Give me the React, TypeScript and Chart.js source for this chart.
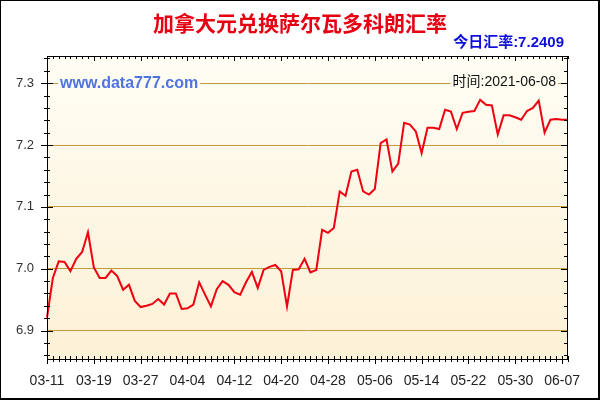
import React, { useEffect, useRef } from "react";
import { Chart, registerables } from "chart.js";

Chart.register(...registerables);

const startDate = "2021-03-11";
const dayCount = 90;
const rates = [
  6.921, 6.985, 7.012, 7.011, 6.996, 7.016, 7.027, 7.059, 7.002, 6.985,
  6.985, 6.997, 6.988, 6.966, 6.974, 6.948, 6.938, 6.940, 6.943, 6.951,
  6.942, 6.960, 6.960, 6.935, 6.936, 6.942, 6.978, 6.958, 6.939, 6.967,
  6.980, 6.974, 6.962, 6.958, 6.978, 6.995, 6.969, 6.998, 7.003, 7.006,
  6.996, 6.939, 6.998, 6.999, 7.016, 6.994, 6.998, 7.063, 7.058, 7.066,
  7.125, 7.118, 7.157, 7.160, 7.125, 7.120, 7.129, 7.203, 7.209, 7.157,
  7.170, 7.236, 7.233, 7.222, 7.187, 7.228, 7.228, 7.226, 7.257, 7.254,
  7.226, 7.252, 7.254, 7.255, 7.273, 7.265, 7.264, 7.217, 7.248, 7.248,
  7.245, 7.241, 7.255, 7.260, 7.272, 7.220, 7.241, 7.242, 7.241, 7.2409,
];
const yTickValues = [6.9, 7.0, 7.1, 7.2, 7.3];
const yMin = 6.854;
const yMax = 7.344;
const labelEvery = 8;

const titleText = "加拿大元兑换萨尔瓦多科朗汇率";
const todayText = "今日汇率:7.2409";
const siteText = "www.data777.com";
const timeText = "时间:2021-06-08";

function makeDates(start: string, n: number): string[] {
  const out: string[] = [];
  const d0 = new Date(start + "T00:00:00Z");
  for (let i = 0; i < n; i++) {
    const d = new Date(d0.getTime() + i * 86400000);
    const m = String(d.getUTCMonth() + 1).padStart(2, "0");
    const dd = String(d.getUTCDate()).padStart(2, "0");
    out.push(`${m}-${dd}`);
  }
  return out;
}
const dates = makeDates(startDate, dayCount);

const decorPlugin = {
  id: "decor",
  beforeDraw(chart: any) {
    const { ctx, chartArea: a } = chart;
    ctx.save();
    ctx.fillStyle = "#ffffff";
    ctx.fillRect(0, 0, chart.width, chart.height);
    const g = ctx.createLinearGradient(0, a.top, 0, a.bottom);
    g.addColorStop(0, "#fffdf4");
    g.addColorStop(1, "#fdf1d6");
    ctx.fillStyle = g;
    ctx.fillRect(a.left, a.top, a.right - a.left, a.bottom - a.top);
    ctx.restore();
  },
  afterDatasetsDraw(chart: any) {
    const { ctx, chartArea: a } = chart;
    const xs = chart.scales.x;
    const ys = chart.scales.y;
    ctx.save();
    ctx.strokeStyle = "#000";
    ctx.lineWidth = 1;
    ctx.strokeRect(a.left + 0.5, a.top + 0.5, a.right - a.left - 1, a.bottom - a.top);
    ctx.beginPath();
    for (let k = 343; k <= 367; k++) {
      const v = k / 50;
      if (v < yMin || v > yMax) continue;
      const p = Math.round(ys.getPixelForValue(v)) + 0.5;
      const major = k % 5 === 0;
      const l = major ? 6 : 3;
      ctx.moveTo(a.left - l, p);
      ctx.lineTo(a.left + l, p);
      ctx.moveTo(a.right - (major ? 7 : 4), p);
      ctx.lineTo(a.right, p);
    }
    for (let i = 0; i < dates.length; i++) {
      const p = Math.round(xs.getPixelForValue(i)) + 0.5;
      const major = i % labelEvery === 0;
      ctx.moveTo(p, a.bottom - 3);
      ctx.lineTo(p, a.bottom + (major ? 5 : 3));
      ctx.moveTo(p, a.top);
      ctx.lineTo(p, a.top + (major ? 5 : 3));
    }
    ctx.stroke();

    ctx.textBaseline = "middle";
    ctx.font = "bold 16px 'Liberation Sans', Arial, sans-serif";
    const sw = ctx.measureText(siteText).width;
    const g = ctx.createLinearGradient(0, a.top, 0, a.bottom);
    g.addColorStop(0, "#fffdf4");
    g.addColorStop(1, "#fdf1d6");
    ctx.fillStyle = g;
    ctx.fillRect(58, 76, sw + 4, 16);
    ctx.fillStyle = "#4f73e0";
    ctx.textAlign = "left";
    ctx.fillText(siteText, 60, 84);

    ctx.font = "14px 'Liberation Sans', 'Noto Sans CJK SC', sans-serif";
    const tw = ctx.measureText(timeText).width;
    ctx.fillStyle = g;
    ctx.fillRect(556 - tw - 2, 75, tw + 4, 15);
    ctx.fillStyle = "#111";
    ctx.textAlign = "right";
    ctx.fillText(timeText, 556, 82);

    ctx.font = "bold 21px 'Noto Sans CJK SC', sans-serif";
    ctx.fillStyle = "#e60012";
    ctx.textAlign = "center";
    ctx.fillText(titleText, 300, 23);

    ctx.font = "bold 15px 'Liberation Sans', 'Noto Sans CJK SC', sans-serif";
    ctx.fillStyle = "#1010dd";
    ctx.textAlign = "right";
    ctx.fillText(todayText, 564, 43);

    ctx.strokeStyle = "#000";
    ctx.lineWidth = 1;
    ctx.strokeRect(0.5, 0.5, chart.width - 1, chart.height - 1);
    ctx.beginPath();
    ctx.moveTo(chart.width - 1.5, 0);
    ctx.lineTo(chart.width - 1.5, chart.height);
    ctx.moveTo(0, chart.height - 1.5);
    ctx.lineTo(chart.width, chart.height - 1.5);
    ctx.stroke();
    ctx.restore();
  },
};

export default function App() {
  const ref = useRef<HTMLCanvasElement | null>(null);
  useEffect(() => {
    document.body.style.margin = "0";
    const canvas = ref.current;
    if (!canvas) return;
    const chart = new Chart(canvas, {
      type: "line",
      data: {
        labels: dates,
        datasets: [
          {
            data: rates,
            borderColor: "#ee0010",
            borderWidth: 2,
            pointRadius: 0,
            tension: 0,
            fill: false,
          },
        ],
      },
      options: {
        responsive: false,
        animation: false,
        events: [],
        layout: { padding: { left: 0, top: 56, right: 32, bottom: 0 } },
        plugins: {
          legend: { display: false },
          tooltip: { enabled: false },
          title: { display: false },
        },
        scales: {
          x: {
            type: "category",
            offset: false,
            grid: { display: false, drawTicks: false },
            border: { display: false },
            afterFit(scale: any) {
              scale.height = 41;
            },
            ticks: {
              autoSkip: false,
              maxRotation: 0,
              padding: 14,
              color: "#222",
              font: { family: "'Liberation Sans', Arial, sans-serif", size: 14 },
              callback: (_v: any, i: number) => (i % labelEvery === 0 ? dates[i] : null),
            },
          },
          y: {
            min: yMin,
            max: yMax,
            afterBuildTicks(scale: any) {
              scale.ticks = yTickValues.map((v) => ({ value: v }));
            },
            afterFit(scale: any) {
              scale.width = 47;
            },
            grid: { color: "#c49a3c", lineWidth: 1, drawTicks: false },
            border: { display: false },
            ticks: {
              padding: 13,
              color: "#333",
              font: { family: "'Liberation Sans', Arial, sans-serif", size: 13 },
              callback: (v: any) => Number(v).toFixed(1),
            },
          },
        },
      },
      plugins: [decorPlugin],
    });
    return () => chart.destroy();
  }, []);
  return <canvas ref={ref} width={600} height={400} style={{ display: "block" }} />;
}
